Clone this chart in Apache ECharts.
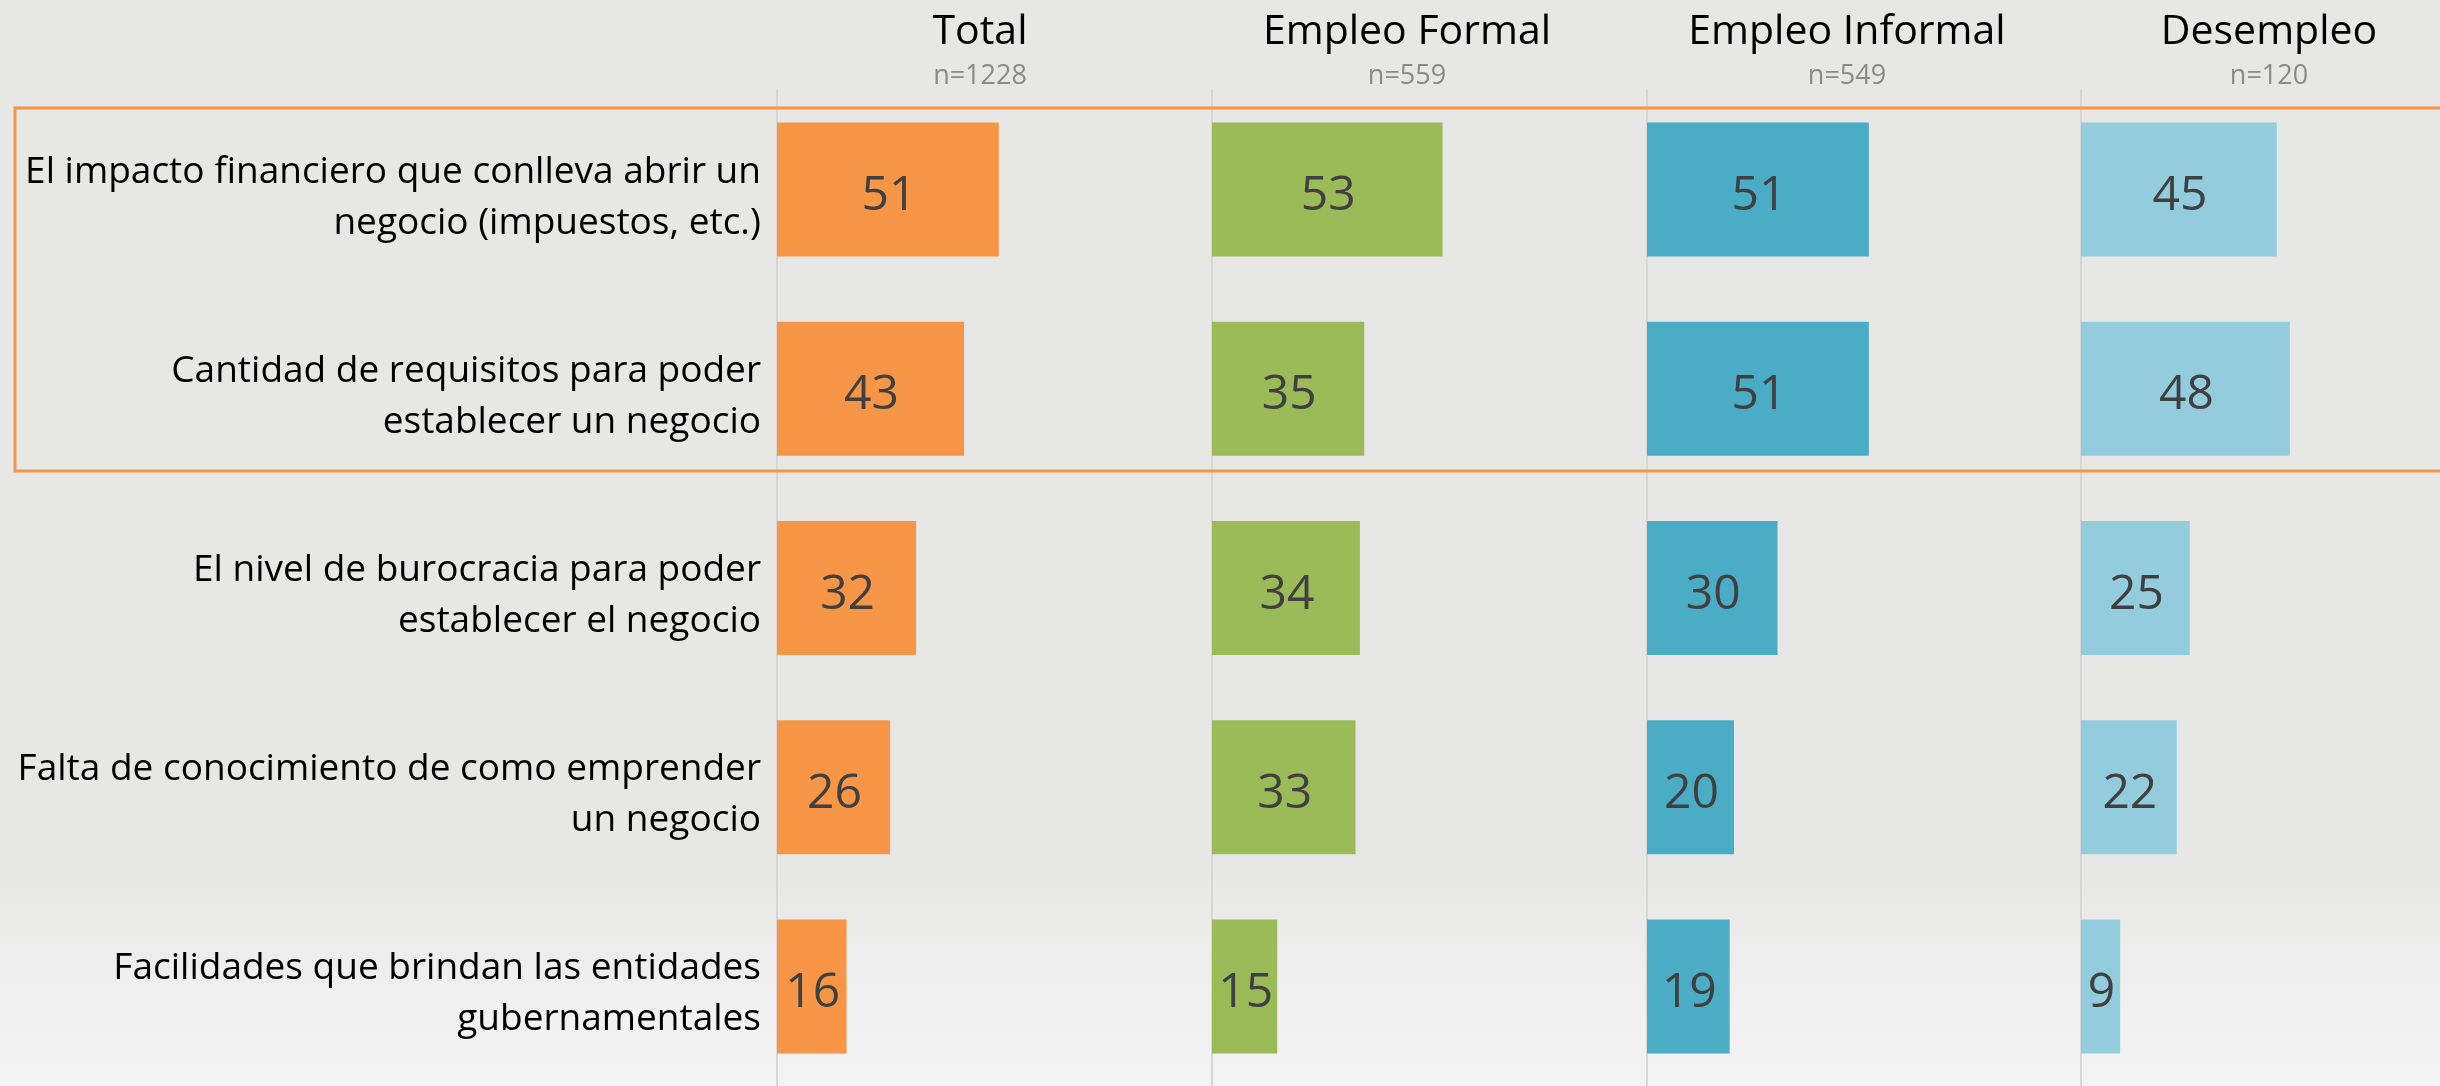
<!DOCTYPE html>
<html>
<head>
<meta charset="utf-8">
<title>Barreras para emprender</title>
<script src="https://cdn.jsdelivr.net/npm/echarts@6/dist/echarts.min.js"></script>
<style>
    html, body { margin: 0; padding: 0; }
    #chart_con { width: 2440px; height: 1086px; }
</style>
</head>
<body>
<div id="chart_con"></div>
<script>
// categorias (filas)
var categories = [
    'El impacto financiero que conlleva abrir un\nnegocio (impuestos, etc.)',
    'Cantidad de requisitos para poder\nestablecer un negocio',
    'El nivel de burocracia para poder\nestablecer el negocio',
    'Falta de conocimiento de como emprender\nun negocio',
    'Facilidades que brindan las entidades\ngubernamentales'
];
// columnas
var groups = ['Total', 'Empleo Formal', 'Empleo Informal', 'Desempleo'];
var sampleSizes = ['n=1228', 'n=559', 'n=549', 'n=120'];
// valores (%)
var totalValues = [51, 43, 32, 26, 16];
var formalValues = [53, 35, 34, 33, 15];
var informalValues = [51, 51, 30, 20, 19];
var desempleoValues = [45, 48, 25, 22, 9];

var seriesValues = [totalValues, formalValues, informalValues, desempleoValues];
var colors = ['#F79646', '#9BBB59', '#4BACC6', '#93CDDD'];

var chartWidth = 2440;
var colLeft = [777, 1212, 1647, 2081];
var titleOffset = [203, 195, 200, 188];
var colWidth = 435;
var font = "'Open Sans', 'Noto Sans', sans-serif";

var grids = [], xAxes = [], yAxes = [], series = [], texts = [];
for (var i = 0; i < groups.length; i++) {
    // la ultima columna se corta en el borde derecho
    var w = Math.min(colWidth, chartWidth - colLeft[i]);
    grids.push({ left: colLeft[i], top: 90, width: w, height: 1000 });
    xAxes.push({
        type: 'value', gridIndex: i, min: 0, max: 100 * w / colWidth, show: false
    });
    yAxes.push({
        type: 'category',
        gridIndex: i,
        inverse: true,
        data: categories,
        axisTick: { show: false },
        axisLine: { show: true, lineStyle: { color: '#d6d6d6', width: 2 } },
        axisLabel: {
            show: i === 0,
            margin: 16,
            align: 'right',
            // linea vacia arriba para bajar un poco el texto
            formatter: function (v) {
                return '{s| }\n{t|' + v.split('\n').join('}\n{t|') + '}';
            },
            rich: {
                s: { fontSize: 2, lineHeight: 16 },
                t: { fontFamily: font, fontSize: 37, lineHeight: 51, color: '#000' }
            }
        }
    });
    series.push({
        type: 'bar',
        name: groups[i],
        xAxisIndex: i,
        yAxisIndex: i,
        barWidth: 134,
        data: seriesValues[i],
        itemStyle: { color: colors[i] },
        label: {
            show: true,
            position: 'inside',
            offset: [1, 7],
            fontFamily: font,
            fontSize: 48,
            color: '#404040'
        }
    });
    texts.push({
        type: 'text',
        x: colLeft[i] + titleOffset[i],
        y: 32,
        style: {
            text: groups[i], fill: '#000', font: '41px ' + font,
            textAlign: 'center', textVerticalAlign: 'middle'
        }
    });
    texts.push({
        type: 'text',
        x: colLeft[i] + titleOffset[i],
        y: 76,
        style: {
            text: sampleSizes[i], fill: '#8a8a8a', font: '27px ' + font,
            textAlign: 'center', textVerticalAlign: 'middle'
        }
    });
}

// recuadro naranja sobre las dos primeras filas
texts.push({
    type: 'rect',
    z: 100,
    shape: { x: 15, y: 108, width: 2450, height: 363 },
    style: { fill: 'none', stroke: '#F79646', lineWidth: 3 }
});

var option = {
    backgroundColor: new echarts.graphic.LinearGradient(0, 0, 0, 1, [
        { offset: 0, color: '#e7e7e6' },
        { offset: 0.8, color: '#e7e7e6' },
        { offset: 0.93, color: '#f1f1f1' },
        { offset: 1, color: '#f3f3f3' }
    ]),
    animation: false,
    grid: grids,
    xAxis: xAxes,
    yAxis: yAxes,
    series: series,
    graphic: texts
};

var chart = echarts.init(document.getElementById('chart_con'));
chart.setOption(option);
window.addEventListener('resize', function () {
    chart.resize();
});
</script>
</body>
</html>
